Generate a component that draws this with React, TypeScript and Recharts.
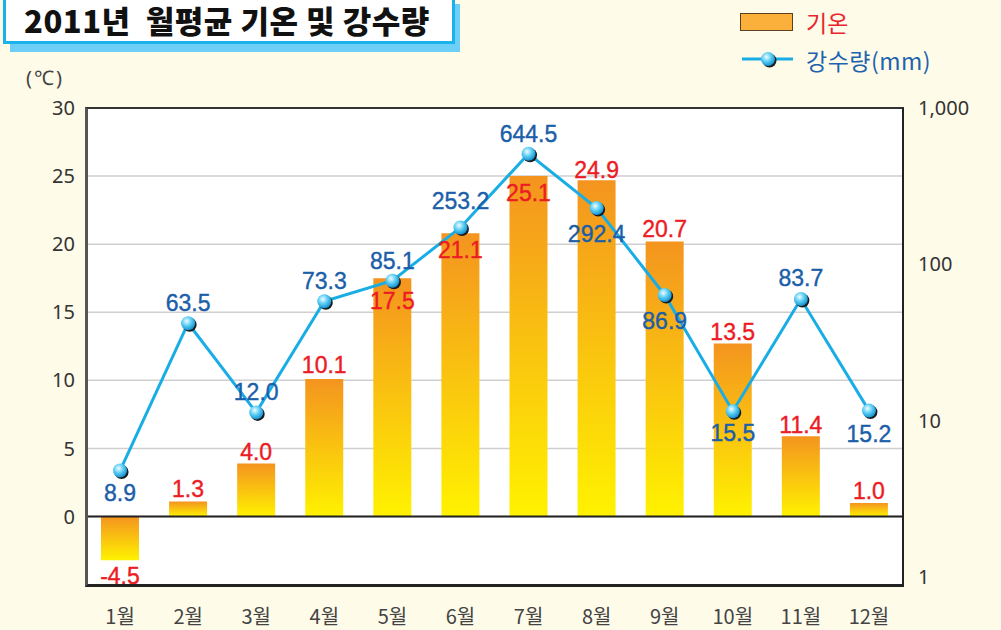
import {
  ComposedChart,
  Bar,
  Line,
  XAxis,
  YAxis,
  CartesianGrid,
  ReferenceLine,
  LabelList,
} from "recharts";

const months = ["1월", "2월", "3월", "4월", "5월", "6월", "7월", "8월", "9월", "10월", "11월", "12월"];
// bar heights as drawn in the picture
const tempBars = [-3.2, 1.1, 3.9, 10.1, 17.5, 20.8, 25.0, 24.7, 20.2, 12.7, 5.9, 1.0];
// printed labels
const tempLabels = ["-4.5", "1.3", "4.0", "10.1", "17.5", "21.1", "25.1", "24.9", "20.7", "13.5", "11.4", "1.0"];
// points as drawn on the log axis
const rainPoints = [4.8, 42, 11.3, 58, 78.6, 172, 510, 229, 63.7, 11.5, 60, 11.6];
const rainLabels = ["8.9", "63.5", "12.0", "73.3", "85.1", "253.2", "644.5", "292.4", "86.9", "15.5", "83.7", "15.2"];
const tempTicks = [0, 5, 10, 15, 20, 25, 30];
const rainTicks = [1, 10, 100, 1000];

// label offsets from bar end / point (px)
const tempLabelDy = [16, -13, -11, -14, 23, 17, 17, -10, -12, -12, -11, -12];
const rainLabelDy = [22, -20, -20, -20, -20, -27, -20, 26, 26, 22, -21, 23];

const data = months.map((month, i) => ({ month, temp: tempBars[i], rain: rainPoints[i] }));

const labelFont = "'Liberation Sans', Arial, sans-serif";
const numFont = "'Noto Sans', 'DejaVu Sans', sans-serif";
const krFont = "'Noto Sans CJK KR', sans-serif";

const TempLabel = (props: any) => {
  const vb = props.viewBox ?? props;
  const x = vb.x ?? props.x;
  const y = vb.y ?? props.y;
  const w = vb.width ?? props.width ?? 0;
  const h = vb.height ?? props.height ?? 0;
  const i = props.index;
  const top = Math.min(y, y + h);
  const bottom = Math.max(y, y + h);
  const base = tempBars[i] < 0 ? bottom : top;
  const cy = base + tempLabelDy[i];
  return (
    <text
      x={x + w / 2}
      y={cy + 8}
      textAnchor="middle"
      fill="#ec1c24"
      stroke="#ec1c24"
      strokeWidth={0.4}
      fontSize={23}
      fontFamily={labelFont}
    >
      {tempLabels[i]}
    </text>
  );
};

const RainDot = (props: any) => {
  const { cx, cy, index } = props;
  return (
    <g key={`dot-${index}`}>
      <circle cx={cx + 1.5} cy={cy + 1.5} r={7} fill="#1b1b1b" />
      <circle cx={cx} cy={cy} r={7} fill="url(#dotGrad)" />
      <text
        x={cx}
        y={cy + rainLabelDy[index] + 8}
        textAnchor="middle"
        fill="#1b5ea9"
        stroke="#1b5ea9"
        strokeWidth={0.4}
        fontSize={23}
        fontFamily={labelFont}
      >
        {rainLabels[index]}
      </text>
    </g>
  );
};

const MonthTick = (props: any) => {
  const { x, y, payload } = props;
  return (
    <text x={x} y={y + 36} textAnchor="middle" fill="#444" fontSize={20} fontFamily={krFont}>
      {payload.value}
    </text>
  );
};

const App = () => {
  return (
    <div
      style={{
        position: "absolute",
        left: 0,
        top: 0,
        width: 1001,
        height: 630,
        background: "#fefbe9",
        overflow: "hidden",
      }}
    >
      {/* title box */}
      <div style={{ position: "absolute", left: 10, top: 4, width: 450, height: 48, background: "#6dcff5" }} />
      <div
        style={{
          position: "absolute",
          left: 3,
          top: 0,
          width: 452,
          height: 44,
          background: "#fff",
          borderLeft: "3px solid #1ab2ea",
          borderRight: "3px solid #1ab2ea",
          borderBottom: "3px solid #1ab2ea",
          boxSizing: "border-box",
        }}
      />
      <div
        style={{
          position: "absolute",
          left: 24,
          top: 2,
          height: 36,
          lineHeight: "36px",
          fontFamily: krFont,
          fontWeight: 900,
          fontSize: 31,
          color: "#111",
          whiteSpace: "pre",
          letterSpacing: 0.5,
        }}
      >
        2011년  월평균 기온 및 강수량
      </div>

      {/* legend */}
      <div
        style={{
          position: "absolute",
          left: 740,
          top: 13,
          width: 53,
          height: 18,
          background: "#fbb03b",
          border: "1.5px solid #5a4020",
          boxSizing: "border-box",
        }}
      />
      <div
        style={{
          position: "absolute",
          left: 806,
          top: 6,
          lineHeight: "32px",
          fontSize: 23,
          fontFamily: krFont,
          color: "#e8262d",
        }}
      >
        기온
      </div>
      <svg style={{ position: "absolute", left: 738, top: 48 }} width={60} height={24}>
        <defs>
          <radialGradient id="legendDot" cx="40%" cy="35%" r="65%">
            <stop offset="0%" stopColor="#f2fcff" />
            <stop offset="50%" stopColor="#5ecff5" />
            <stop offset="100%" stopColor="#1593d0" />
          </radialGradient>
        </defs>
        <line x1={4} y1={11} x2={55} y2={11} stroke="#19ade6" strokeWidth={3} />
        <circle cx={31.5} cy={12.5} r={7} fill="#1b1b1b" />
        <circle cx={30} cy={11} r={7} fill="url(#legendDot)" />
      </svg>
      <div
        style={{
          position: "absolute",
          left: 806,
          top: 44,
          lineHeight: "32px",
          fontSize: 23,
          letterSpacing: 0.5,
          fontFamily: krFont,
          color: "#1c63ae",
        }}
      >
        강수량(mm)
      </div>

      <div
        style={{
          position: "absolute",
          left: 26,
          top: 65,
          lineHeight: "26px",
          fontSize: 20,
          letterSpacing: 2,
          fontFamily: numFont,
          color: "#444",
        }}
      >
        (℃)
      </div>

      <div style={{ position: "absolute", left: 0, top: 0 }}>
        <ComposedChart
          width={1001}
          height={630}
          data={data}
          margin={{ top: 108, right: 0, bottom: 0, left: 0 }}
          barCategoryGap={0}
        >
          <defs>
            <linearGradient id="barGrad" x1="0" y1="0" x2="0" y2="1">
              <stop offset="0%" stopColor="#f4941f" />
              <stop offset="100%" stopColor="#fff200" />
            </linearGradient>
            <radialGradient id="dotGrad" cx="40%" cy="35%" r="65%">
              <stop offset="0%" stopColor="#f2fcff" />
              <stop offset="50%" stopColor="#5ecff5" />
              <stop offset="100%" stopColor="#1593d0" />
            </radialGradient>
          </defs>
          <CartesianGrid yAxisId="t" vertical={false} stroke="#cfcfcf" strokeWidth={1.5} fill="#fff" />
          <XAxis
            dataKey="month"
            height={44}
            tickLine={false}
            axisLine={false}
            tickSize={0}
            tick={<MonthTick />}
            interval={0}
          />
          <YAxis
            yAxisId="t"
            orientation="left"
            width={86}
            domain={[-5.1, 30]}
            ticks={tempTicks}
            tickLine={false}
            axisLine={false}
            tickSize={0}
            tickMargin={11}
            tick={{ fill: "#333", fontSize: 20, fontFamily: numFont }}
          />
          <YAxis
            yAxisId="r"
            orientation="right"
            width={98}
            scale="log"
            domain={[0.876, 1000]}
            ticks={rainTicks}
            tickLine={false}
            axisLine={false}
            tickSize={0}
            tickMargin={15}
            tickFormatter={(v: number) => v.toLocaleString("en-US")}
            tick={{ fill: "#333", fontSize: 20, fontFamily: numFont, textAnchor: "start" }}
          />
          <Bar yAxisId="t" dataKey="temp" barSize={38} fill="url(#barGrad)" isAnimationActive={false}>
            <LabelList dataKey="temp" content={<TempLabel />} />
          </Bar>
          <ReferenceLine yAxisId="t" y={0} stroke="#222" strokeWidth={2} />
          <Line
            yAxisId="r"
            dataKey="rain"
            stroke="#19ade6"
            strokeWidth={3}
            dot={<RainDot />}
            activeDot={false}
            isAnimationActive={false}
          />
        </ComposedChart>
      </div>

      {/* plot frame */}
      <div
        style={{
          position: "absolute",
          left: 85,
          top: 107,
          width: 819,
          height: 480,
          borderTop: "2px solid #333",
          borderRight: "2px solid #222",
          borderBottom: "3px solid #222",
          borderLeft: "3px solid #555",
          boxSizing: "border-box",
          pointerEvents: "none",
        }}
      />
    </div>
  );
};

export default App;
